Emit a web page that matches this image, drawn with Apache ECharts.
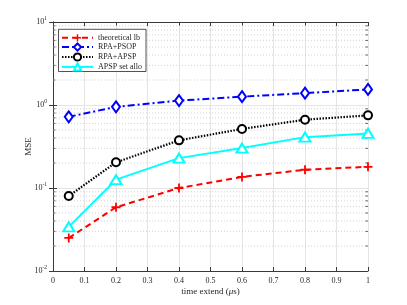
<!DOCTYPE html>
<html><head><meta charset="utf-8">
<script src="https://cdn.jsdelivr.net/npm/echarts@6/dist/echarts.min.js"></script>
<style>html,body{margin:0;padding:0;background:#fff}#c{width:407px;height:305px}</style>
</head><body><div id="c"></div>
<script>
const timeExtend = [0.05, 0.2, 0.4, 0.6, 0.8, 1.0];
const theoreticalLb = [0.025, 0.0586, 0.100, 0.136, 0.166, 0.180];
const rpaPsop = [0.72, 0.95, 1.13, 1.26, 1.39, 1.54];
const rpaApsp = [0.080, 0.204, 0.375, 0.515, 0.665, 0.75];
const apspSetAllo = [0.034, 0.126, 0.229, 0.303, 0.410, 0.455];
const seriesNames = ['theoretical lb', 'RPA+PSOP', 'RPA+APSP', 'APSP set allo'];
const xTicks = [0, 0.1, 0.2, 0.3, 0.4, 0.5, 0.6, 0.7, 0.8, 0.9, 1];
const yTickExponents = ['-2', '-1', '0', '1'];
const minorYTicks = [0.02,0.03,0.04,0.05,0.06,0.07,0.08,0.09,0.2,0.3,0.4,0.5,0.6,0.7,0.8,0.9,2,3,4,5,6,7,8,9];

const FONT = '"Liberation Serif", "Times New Roman", serif';
const AX = '#3a3a3a';
const pair = (ys) => timeExtend.map((x, i) => [x, ys[i]]);
const plusPath = 'path://M0,4h10v2h-10z M4,0h2v10h-2z';

const chart = echarts.init(document.getElementById('c'), null, {renderer: 'canvas'});
const yLabel = (v) => {
  const e = Math.round(Math.log10(v));
  return '{b|10}{s|' + (e < 0 ? '-' + (-e) : e) + '}';
};
const option = {
  backgroundColor: '#fff',
  animation: false,
  grid: {left: 53, right: 39, top: 22, bottom: 34},
  legend: {
    orient: 'vertical', left: 58.5, top: 29.3,
    itemWidth: 31, itemHeight: 9, itemGap: 0.7,
    padding: [4.5, 4, 0, 2.5],
    borderColor: '#262626', borderWidth: 0.8, backgroundColor: '#fff',
    textStyle: {fontFamily: FONT, fontSize: 8, color: '#262626'},
    data: seriesNames
  },
  xAxis: [{
    type: 'value', min: 0, max: 1, interval: 0.1,
    name: 'time extend ({i|μ}s)', nameLocation: 'middle', nameGap: 16, nameMoveOverlap: false,
    nameTextStyle: {fontFamily: FONT, fontSize: 9, color: '#262626',
      rich: {i: {fontFamily: FONT, fontSize: 9, fontStyle: 'italic', color: '#262626'}}},
    axisLine: {lineStyle: {color: AX, width: 1}},
    axisTick: {inside: true, length: 4, lineStyle: {color: AX}},
    axisLabel: {fontFamily: FONT, fontSize: 8, color: '#262626', margin: 6,
      formatter: (v) => String(+v.toFixed(1))},
    splitLine: {show: true, lineStyle: {color: '#e4e4e4', width: 1}}
  }, {
    type: 'value', min: 0, max: 1, interval: 0.1, position: 'top',
    axisLine: {show: true, lineStyle: {color: AX, width: 1}},
    axisTick: {show: true, inside: true, length: 4, lineStyle: {color: AX}},
    axisLabel: {show: false}, splitLine: {show: false}
  }],
  yAxis: [{
    type: 'log', logBase: 10, min: 0.01, max: 10,
    name: 'MSE', nameLocation: 'middle', nameGap: 20, nameMoveOverlap: false,
    nameTextStyle: {fontFamily: FONT, fontSize: 9, color: '#262626'},
    axisLine: {show: true, lineStyle: {color: AX, width: 1}},
    axisTick: {show: true, inside: true, length: 4, lineStyle: {color: AX}},
    axisLabel: {margin: 6, formatter: yLabel,
      rich: {
        b: {fontFamily: FONT, fontSize: 8, color: '#262626'},
        s: {fontFamily: FONT, fontSize: 5.5, color: '#262626', padding: [0, 0, 6, 0]}
      }},
    splitLine: {show: true, lineStyle: {color: '#e4e4e4', width: 1}}
  }, {
    type: 'log', logBase: 10, min: 0.01, max: 10, position: 'right',
    axisLine: {show: true, lineStyle: {color: AX, width: 1}},
    axisTick: {show: true, inside: true, length: 4, lineStyle: {color: AX}},
    axisLabel: {show: false}, splitLine: {show: false}
  }],
  series: [
    {
      type: 'custom', silent: true, z: 1, clip: false,
      data: minorYTicks.map(v => [0, v]),
      renderItem: (params, api) => {
        const v = api.value(1);
        const p0 = api.coord([0, v]);
        const p1 = api.coord([1, v]);
        return {type: 'group', children: [
          {type: 'line', shape: {x1: p0[0], y1: p0[1], x2: p1[0], y2: p1[1]},
            style: {stroke: '#c8c8c8', lineWidth: 0.8, lineDash: [1, 2]}},
          {type: 'line', shape: {x1: p0[0], y1: p0[1], x2: p0[0] + 2.5, y2: p0[1]},
            style: {stroke: AX, lineWidth: 0.8}},
          {type: 'line', shape: {x1: p1[0], y1: p1[1], x2: p1[0] - 2.5, y2: p1[1]},
            style: {stroke: AX, lineWidth: 0.8}}
        ]};
      }
    },
    {
      name: seriesNames[0], type: 'line', data: pair(theoreticalLb), z: 5,
      symbol: plusPath, symbolSize: 9,
      lineStyle: {color: '#ff0000', width: 2, type: [6, 4]},
      itemStyle: {color: '#ff0000', borderWidth: 0}
    },
    {
      name: seriesNames[1], type: 'line', data: pair(rpaPsop), z: 5,
      symbol: 'emptyDiamond', symbolSize: [8, 11],
      lineStyle: {color: '#0000ff', width: 2, type: [7, 3, 2, 3]},
      itemStyle: {color: '#0000ff', borderColor: '#0000ff', borderWidth: 2}
    },
    {
      name: seriesNames[2], type: 'line', data: pair(rpaApsp), z: 5,
      symbol: 'emptyCircle', symbolSize: 8,
      lineStyle: {color: '#000000', width: 2.2, type: [1.5, 1.5]},
      itemStyle: {color: '#000000', borderColor: '#000000', borderWidth: 2}
    },
    {
      name: seriesNames[3], type: 'line', data: pair(apspSetAllo), z: 5,
      symbol: 'emptyTriangle', symbolSize: [11, 9],
      lineStyle: {color: '#00ffff', width: 2},
      itemStyle: {color: '#00ffff', borderColor: '#00ffff', borderWidth: 2}
    }
  ]
};
chart.setOption(option);
</script>
</body></html>
